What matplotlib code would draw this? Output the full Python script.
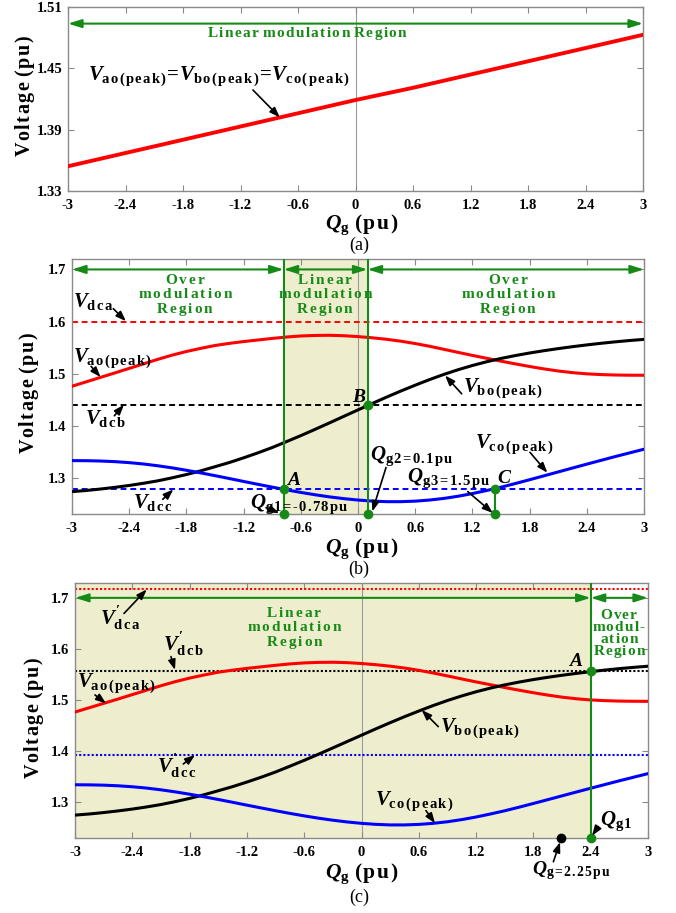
import matplotlib
matplotlib.use('Agg')
import matplotlib.pyplot as plt

plt.rcParams['font.family'] = ['Liberation Serif', 'DejaVu Serif']
plt.rcParams['font.weight'] = 'bold'
plt.rcParams['mathtext.fontset'] = 'custom'
plt.rcParams['mathtext.rm'] = 'Liberation Serif:bold'
plt.rcParams['mathtext.it'] = 'Liberation Serif:italic:bold'
plt.rcParams['mathtext.bf'] = 'Liberation Serif:bold'

# ---------------- data ----------------
xticks = [-3, -2.4, -1.8, -1.2, -0.6, 0, 0.6, 1.2, 1.8, 2.4, 3]
xtick_labels = ['-3', '-2.4', '-1.8', '-1.2', '-0.6', '0', '0.6', '1.2', '1.8', '2.4', '3']
yticks_a = [1.33, 1.39, 1.45, 1.51]
yticks_bc = [1.3, 1.4, 1.5, 1.6, 1.7]

# panel (a): all three phase peaks equal
qg_a = [-3.0, -2.4, -1.8, -1.2, -0.6, 0.0, 0.6, 1.2, 1.8, 2.4, 3.0]
v_peak_a = [1.354, 1.367, 1.380, 1.393, 1.406, 1.419, 1.431, 1.444, 1.457, 1.470, 1.483]

# panels (b), (c): phase peak voltages
qg = [-3.0, -2.85, -2.7, -2.55, -2.4, -2.25, -2.1, -1.95, -1.8, -1.65, -1.5,
      -1.35, -1.2, -1.05, -0.9, -0.75, -0.6, -0.45, -0.3, -0.15, 0.0,
      0.15, 0.3, 0.45, 0.6, 0.75, 0.9, 1.05, 1.2, 1.35, 1.5,
      1.65, 1.8, 1.95, 2.1, 2.25, 2.4, 2.55, 2.7, 2.85, 3.0]
v_ao = [1.4765, 1.485, 1.4935, 1.502, 1.5107, 1.5193, 1.528, 1.536, 1.543, 1.549, 1.5545,
        1.5585, 1.562, 1.565, 1.568, 1.5707, 1.5727, 1.5737, 1.574, 1.5732, 1.5715,
        1.5692, 1.5663, 1.5627, 1.5582, 1.553, 1.5472, 1.5413, 1.5355, 1.530, 1.5245,
        1.5193, 1.5143, 1.5097, 1.5057, 1.5025, 1.5002, 1.4988, 1.498, 1.4976, 1.4975]
v_bo = [1.2748, 1.277, 1.2798, 1.283, 1.2866, 1.2908, 1.2955, 1.3012, 1.3075, 1.3146, 1.3225,
        1.3305, 1.3395, 1.349, 1.3592, 1.3705, 1.382, 1.394, 1.4063, 1.4188, 1.4312,
        1.4436, 1.4557, 1.4674, 1.4785, 1.4892, 1.4991, 1.5081, 1.5162, 1.5234, 1.5297,
        1.5352, 1.5401, 1.5445, 1.5485, 1.5522, 1.5556, 1.5587, 1.5615, 1.564, 1.5662]
v_co = [1.3342, 1.334, 1.3334, 1.3322, 1.3303, 1.3277, 1.3243, 1.3203, 1.3157, 1.3107, 1.3054,
        1.2999, 1.2943, 1.2888, 1.2834, 1.2782, 1.2733, 1.2688, 1.2648, 1.2614, 1.2587,
        1.2567, 1.2556, 1.2556, 1.2566, 1.2587, 1.2618, 1.266, 1.2711, 1.277, 1.2833,
        1.2903, 1.2976, 1.305, 1.3125, 1.32, 1.3274, 1.3347, 1.342, 1.349, 1.356]

# dc-link levels
vdc_b = [1.60, 1.44, 1.28]        # V_dca, V_dcb, V_dcc
vdc_c = [1.717, 1.557, 1.3925]    # V'_dca, V'_dcb, V'_dcc

# operating points
qg_b_pts = [-0.78, 0.1, 1.44]     # Qg1, Qg2, Qg3 (panel b)
qg_c_limit = 2.4                  # Qg1 (panel c)
qg_c_op = 2.09                    # Qg = 2.25 pu marker

GREEN = '#168a16'
SHADE = '#eeeecf'
SPINE = '#8a8a8a'
W, H = 676, 913


def fx(px):
    return px / W


def fy(py):
    return 1 - py / H


def sp(s, gap=0.12):
    return (r'\hspace{%g}' % gap).join(r'\text{%s}' % c for c in s)


def gtext(s, gap=0.12):
    out = []
    for line in s.split('\n'):
        out.append('$' + r'\ '.join(sp(w, gap) for w in line.split(' ')) + '$')
    return '\n'.join(out)


def vlab(sub, prime=False):
    p = r'^{\prime}' if prime else ''
    return r'$V%s_{%s}$' % (p, sp(sub))


def qlab(sub):
    return r'$Q_{%s}$' % sp(sub)


def style(ax, ylim, yticks, ylabels):
    ax.set_xlim(-3, 3)
    ax.set_ylim(*ylim)
    ax.set_xticks(xticks)
    ax.set_xticklabels(xtick_labels)
    ax.set_yticks(yticks)
    ax.set_yticklabels(ylabels)
    ax.tick_params(direction='in', top=True, right=True, length=4, width=0.8,
                   color=SPINE, labelsize=10.5)
    ax.tick_params(axis='x', pad=6)
    ax.tick_params(axis='y', pad=4)
    for s in ax.spines.values():
        s.set_color(SPINE)
        s.set_linewidth(1.0)
    ax.axvline(0, color='#9a9a9a', lw=0.8, zorder=1)


def garrow(ax, x0, x1, y):
    ax.annotate('', xy=(x1, y), xytext=(x0, y),
                arrowprops=dict(arrowstyle='<|-|>,head_length=0.8,head_width=0.25',
                                color=GREEN, lw=1.5, shrinkA=0, shrinkB=0,
                                mutation_scale=10),
                annotation_clip=False, zorder=5)


def karrow(ax, tail, tip):
    ax.annotate('', xy=tip, xytext=tail,
                arrowprops=dict(arrowstyle='-|>,head_length=0.6,head_width=0.22',
                                color='k', lw=1.2, shrinkA=0, shrinkB=0,
                                mutation_scale=10),
                annotation_clip=False, zorder=7)


def ktext(ax, x, y, s, fs=15, ha='left'):
    ax.text(x, y, s, fontsize=fs, ha=ha, va='baseline', color='k', zorder=7,
            clip_on=False)


fig = plt.figure(figsize=(W / 100, H / 100), dpi=100)

# ---------------- panel (a) ----------------
axa = fig.add_axes([fx(68), fy(190.7), fx(643) - fx(68), (190.7 - 7.3) / H])
style(axa, (1.33, 1.51), yticks_a, ['1.33', '1.39', '1.45', '1.51'])
axa.plot(qg_a, v_peak_a, color='red', lw=2.8, zorder=3)
garrow(axa, -3, 3, 1.494)
axa.text(-0.5, 1.4845, gtext('Linear modulation Region'), color=GREEN, fontsize=11,
         ha='center', va='center')
ktext(axa, -2.79, 1.4387,
      r'$V_{%s}\!=\!V_{%s}\!=\!V_{%s}$' % (sp('ao(peak)'), sp('bo(peak)'), sp('co(peak)')))
karrow(axa, (-1.07, 1.4288), (-0.79, 1.402))

# ---------------- panel (b) ----------------
ylim_b = (1.232, 1.72)
axb = fig.add_axes([fx(72), fy(514), fx(644) - fx(72), (514 - 259) / H])
style(axb, ylim_b, yticks_bc, ['1.3', '1.4', '1.5', '1.6', '1.7'])
axb.axvspan(qg_b_pts[0], qg_b_pts[1], color=SHADE, zorder=0, lw=0)
for v, c in zip(vdc_b, ['red', 'black', 'blue']):
    axb.axhline(v, color=c, ls=(0, (3, 2)), lw=1.4, zorder=2)
axb.plot(qg, v_ao, color='red', lw=2.2, zorder=3)
axb.plot(qg, v_bo, color='black', lw=2.2, zorder=3)
axb.plot(qg, v_co, color='blue', lw=2.2, zorder=3)
axb.axvline(qg_b_pts[0], color=GREEN, lw=1.5, zorder=4)
axb.axvline(qg_b_pts[1], color=GREEN, lw=1.5, zorder=4)
axb.plot([qg_b_pts[2], qg_b_pts[2]], [ylim_b[0], vdc_b[2]], color=GREEN, lw=1.5, zorder=4)
axb.plot([qg_b_pts[0], qg_b_pts[0], qg_b_pts[1], qg_b_pts[1], qg_b_pts[2], qg_b_pts[2]],
         [vdc_b[2], ylim_b[0], vdc_b[1], ylim_b[0], vdc_b[2], ylim_b[0]],
         'o', color=GREEN, ms=6, clip_on=False, zorder=6)
garrow(axb, -3, qg_b_pts[0], 1.70)
garrow(axb, qg_b_pts[0], qg_b_pts[1], 1.70)
garrow(axb, qg_b_pts[1], 3, 1.70)
axb.text(-1.81, 1.65, gtext('Over\nmodulation\nRegion', 0.18), color=GREEN, fontsize=11,
         ha='center', va='center', linespacing=1.0)
axb.text(-0.34, 1.65, gtext('Linear\nmodulation\nRegion', 0.18), color=GREEN, fontsize=11,
         ha='center', va='center', linespacing=1.0)
axb.text(1.58, 1.65, gtext('Over\nmodulation\nRegion', 0.18), color=GREEN, fontsize=11,
         ha='center', va='center', linespacing=1.0)

ktext(axb, -2.99, 1.628, vlab('dca'))
karrow(axb, (-2.567, 1.625), (-2.434, 1.601))
ktext(axb, -2.99, 1.5227, vlab('ao(peak)'))
karrow(axb, (-2.80, 1.5145), (-2.70, 1.494))
ktext(axb, -2.864, 1.4044, vlab('dcb'))
karrow(axb, (-2.556, 1.420), (-2.455, 1.441))
ktext(axb, -2.357, 1.2442, vlab('dcc'))
karrow(axb, (-2.049, 1.260), (-1.937, 1.279))
ktext(axb, -1.133, 1.243, qlab('g1=-0.78pu'))
karrow(axb, (-0.965, 1.244), (-0.825, 1.234))
ktext(axb, -0.75, 1.287, r'$A$', fs=14)
ktext(axb, 0.09, 1.447, r'$B$', fs=14, ha='right')
ktext(axb, 0.126, 1.3352, qlab('g2=0.1pu'))
karrow(axb, (0.294, 1.321), (0.15, 1.237))
ktext(axb, 0.511, 1.294, qlab('g3=1.5pu'))
karrow(axb, (1.151, 1.275), (1.413, 1.234))
ktext(axb, 1.455, 1.292, r'$C$', fs=14)
ktext(axb, 1.105, 1.465, vlab('bo(peak)'))
karrow(axb, (1.088, 1.462), (0.913, 1.497))
ktext(axb, 1.228, 1.359, vlab('co(peak)'))
karrow(axb, (1.804, 1.350), (1.986, 1.311))

# ---------------- panel (c) ----------------
ylim_c = (1.23, 1.7285)
axc = fig.add_axes([fx(75), fy(838), fx(648) - fx(75), (838 - 583.3) / H])
style(axc, ylim_c, yticks_bc, ['1.3', '1.4', '1.5', '1.6', '1.7'])
axc.axvspan(-3, qg_c_limit, color=SHADE, zorder=0, lw=0)
for v, c in zip(vdc_c, ['red', 'black', 'blue']):
    axc.axhline(v, color=c, ls=(0, (1, 1)), lw=1.5, zorder=2)
axc.plot(qg, v_ao, color='red', lw=2.2, zorder=3)
axc.plot(qg, v_bo, color='black', lw=2.2, zorder=3)
axc.plot(qg, v_co, color='blue', lw=2.2, zorder=3)
axc.axvline(qg_c_limit, color=GREEN, lw=1.5, zorder=4)
axc.plot([qg_c_limit, qg_c_limit], [vdc_c[1], ylim_c[0]], 'o', color=GREEN, ms=6,
         clip_on=False, zorder=6)
axc.plot([qg_c_op], [ylim_c[0]], 'o', color='black', ms=6, clip_on=False, zorder=6)
garrow(axc, -3, qg_c_limit, 1.70)
garrow(axc, qg_c_limit, 3, 1.70)
axc.text(-0.70, 1.641, gtext('Linear\nmodulation\nRegion', 0.18), color=GREEN, fontsize=11,
         ha='center', va='center', linespacing=1.0)
axc.text(2.70, 1.6285, gtext('Over\nmodul-\nation\nRegion', 0.1), color=GREEN, fontsize=11,
         ha='center', va='center', linespacing=0.8)

ktext(axc, -2.738, 1.6466, vlab('dca', prime=True))
karrow(axc, (-2.487, 1.6695), (-2.249, 1.7164))
ktext(axc, -2.075, 1.5964, vlab('dcb', prime=True))
karrow(axc, (-1.995, 1.585), (-1.953, 1.559))
ktext(axc, -2.98, 1.526, vlab('ao(peak)'))
karrow(axc, (-2.791, 1.51), (-2.675, 1.4935))
ktext(axc, -2.145, 1.3567, vlab('dcc', prime=True))
karrow(axc, (-1.866, 1.3749), (-1.743, 1.3925))
ktext(axc, 2.32, 1.566, r'$A$', fs=14, ha='right')
ktext(axc, 0.822, 1.438, vlab('bo(peak)'))
karrow(axc, (0.804, 1.448), (0.630, 1.4805))
ktext(axc, 0.141, 1.2947, vlab('co(peak)'))
karrow(axc, (0.675, 1.2836), (0.77, 1.2589))
ktext(axc, 2.497, 1.2556, qlab('g1'))
karrow(axc, (2.48, 1.2523), (2.414, 1.2345))
ktext(axc, 1.79, 1.158, qlab('g=2.25pu'), fs=14)
karrow(axc, (2.009, 1.1835), (2.079, 1.222))

# ---------------- axis labels & captions ----------------
xlab = r'$Q_{\mathrm{g}}\ %s$' % sp('(pu)', 0.1)
ylab = gtext('Voltage (pu)', 0.1)
for (yx, yy), xy, cap, cy in [((25, 96), 225, '(a)', 245),
                               ((29, 393), 549, '(b)', 569),
                               ((34, 718), 874, '(c)', 897)]:
    fig.text(fx(yx), fy(yy), ylab, rotation=90, ha='center', va='center', fontsize=14.5)
    fig.text(fx(362), fy(xy), xlab, ha='center', va='center', fontsize=15.5)
    fig.text(fx(359), fy(cy), cap, ha='center', va='center', fontsize=13,
             fontweight='normal')

fig.savefig('out.png', dpi=100)
